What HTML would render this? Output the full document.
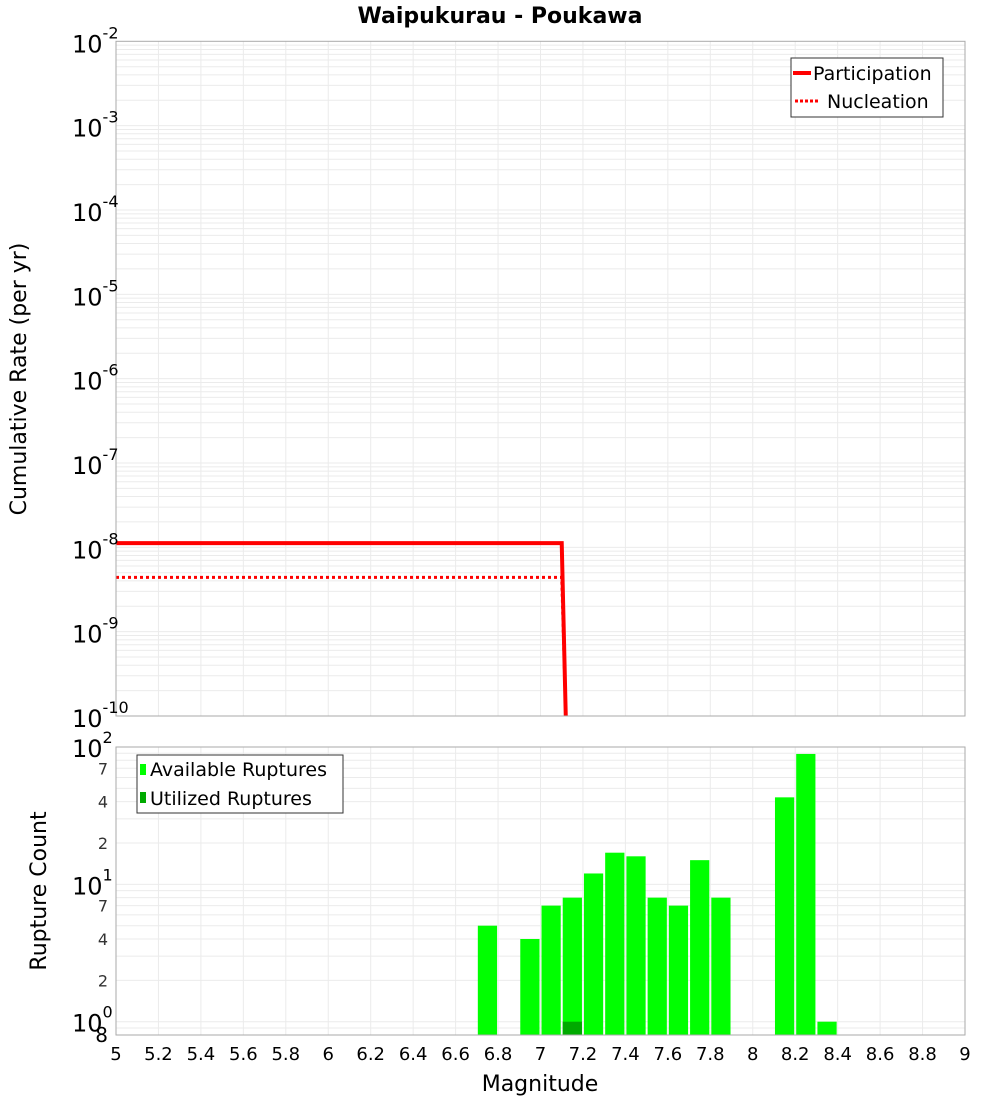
<!DOCTYPE html>
<html><head><meta charset="utf-8">
<style>
html,body{margin:0;padding:0;background:#fff;}
svg{display:block;font-family:"DejaVu Sans","Liberation Sans",sans-serif;}
</style></head>
<body>
<svg id="chart" width="1000" height="1100" xmlns="http://www.w3.org/2000/svg"></svg>
<script>
// ---- data ----
const partMag = [5, 7.1, 7.119];
const partRate = [1.12e-8, 1.12e-8, 1e-10];
const nuclMag = [5, 7.1, 7.119];
const nuclRate = [4.4e-9, 4.4e-9, 1e-10];
const binMag = [6.7, 6.9, 7.0, 7.1, 7.2, 7.3, 7.4, 7.5, 7.6, 7.7, 7.8, 8.1, 8.2, 8.3];
const availCount = [5, 4, 7, 8, 12, 17, 16, 8, 7, 15, 8, 43, 89, 1];
const usedMag = [7.1];
const usedCount = [1];
const xTicks = [5,5.2,5.4,5.6,5.8,6,6.2,6.4,6.6,6.8,7,7.2,7.4,7.6,7.8,8,8.2,8.4,8.6,8.8,9];
const topExp = [-2,-3,-4,-5,-6,-7,-8,-9,-10];
const botMinor = [2,4,7,20,40,70];

const NS = "http://www.w3.org/2000/svg";
const svg = document.getElementById('chart');
function el(tag, attrs, parent){
  const e = document.createElementNS(NS, tag);
  for (const k in attrs) e.setAttribute(k, attrs[k]);
  (parent||svg).appendChild(e);
  return e;
}
const X0=116, X1=965;
const xs = m => X0 + (m-5)/(9-5)*(X1-X0);
const T0=41.3, T1=716;
const yTop = v => T0 + (-2 - Math.log10(v))/8*(T1-T0);
const B0=747, B1=1035;
const BMIN=0.8, BMAX=100;
const yBot = v => B0 + (Math.log10(BMAX)-Math.log10(v))/(Math.log10(BMAX)-Math.log10(BMIN))*(B1-B0);

// title
let t = el('text',{x:500,y:23,'text-anchor':'middle','font-size':22,'font-weight':'bold'});


t.textContent='Waipukurau - Poukawa';

// ---- top panel ----
const gTop = el('g',{});


el('rect',{x:X0,y:T0,width:X1-X0,height:T1-T0,fill:'#fff'},gTop);
for (let e=-10;e<-2;e++){
  for (let k=1;k<10;k++){
    const y=yTop(k*Math.pow(10,e));
    el('line',{x1:X0,x2:X1,y1:y,y2:y,stroke:'#ebebeb','stroke-width':1},gTop);
  }
}
xTicks.forEach(m=>{el('line',{x1:xs(m),x2:xs(m),y1:T0,y2:T1,stroke:'#ebebeb','stroke-width':1},gTop);});
const clipT = el('clipPath',{id:'ct'}); el('rect',{x:X0,y:T0,width:X1-X0,height:T1-T0},clipT);
const gl = el('g',{'clip-path':'url(#ct)'},gTop);
let pp = el('polyline',{points:partMag.map((m,i)=>xs(m)+','+yTop(partRate[i])).join(' '),fill:'none',stroke:'#ff0000','stroke-width':4},gl);


let np = el('polyline',{points:nuclMag.map((m,i)=>xs(m)+','+yTop(nuclRate[i])).join(' '),fill:'none',stroke:'#ff0000','stroke-width':3,'stroke-dasharray':'3,3'},gl);


el('rect',{x:X0,y:T0,width:X1-X0,height:T1-T0,fill:'none',stroke:'#aaa','stroke-width':1},gTop);
topExp.forEach(e=>{
  const y=yTop(Math.pow(10,e));
  const tx=el('text',{x:72,y:y+11,'font-size':24},gTop);
  
  
  tx.textContent='10';
  const sp=el('tspan',{dy:-14,'font-size':16},tx); sp.textContent=String(e);
});
let yt=el('text',{x:26,y:379,'font-size':22,'text-anchor':'middle',transform:'rotate(-90 26 379)'});


yt.textContent='Cumulative Rate (per yr)';
// legend top
const lg=el('g',{});  
el('rect',{x:791,y:58,width:152,height:59,fill:'#fff',stroke:'#333','stroke-width':1},lg);
el('line',{x1:793,x2:811,y1:73,y2:73,stroke:'#f00','stroke-width':4},lg);
el('line',{x1:795,x2:820,y1:101,y2:101,stroke:'#f00','stroke-width':3,'stroke-dasharray':'3,2'},lg);
let l1=el('text',{x:813,y:80,'font-size':19},lg); l1.textContent='Participation';
let l2=el('text',{x:827,y:108,'font-size':19},lg); l2.textContent='Nucleation';

// ---- bottom panel ----
const gB = el('g',{});


for (let e=-1;e<2;e++){
  for (let k=1;k<10;k++){
    const v=k*Math.pow(10,e);
    if (v<BMIN||v>BMAX) continue;
    const y=yBot(v);
    el('line',{x1:X0,x2:X1,y1:y,y2:y,stroke:'#ebebeb','stroke-width':1},gB);
  }
}
xTicks.forEach(m=>{el('line',{x1:xs(m),x2:xs(m),y1:B0,y2:B1,stroke:'#ebebeb','stroke-width':1},gB);});
binMag.forEach((m,i)=>{
  const y=yBot(availCount[i]);
  const r=el('rect',{x:xs(m)+1,y:y,width:xs(m+0.1)-xs(m)-2,height:B1-y,fill:'#00ff00'},gB);
  
  
});
usedMag.forEach((m,i)=>{
  const y=yBot(usedCount[i]);
  const r=el('rect',{x:xs(m)+1,y:y,width:xs(m+0.1)-xs(m)-2,height:B1-y,fill:'#00aa00'},gB);
  
  
});
el('rect',{x:X0,y:B0,width:X1-X0,height:B1-B0,fill:'none',stroke:'#aaa','stroke-width':1},gB);
[[1,'0'],[10,'1'],[100,'2']].forEach(([v,e])=>{
  const y=yBot(v);
  const tx=el('text',{x:72,y:y+10,'font-size':24},gB);
  
  
  tx.textContent='10';
  const sp=el('tspan',{dy:-14,'font-size':16},tx); sp.textContent=e;
});
botMinor.forEach(v=>{
  const tx=el('text',{x:108,y:yBot(v)+6,'font-size':16,'text-anchor':'end',fill:'#333'},gB);
  
  
  tx.textContent=String(v>=10?v/10:v);
});
let t8=el('text',{x:108,y:1042,'font-size':20,'text-anchor':'end'},gB); t8.textContent='8';
let bt=el('text',{x:46,y:891,'font-size':22,'text-anchor':'middle',transform:'rotate(-90 46 891)'});


bt.textContent='Rupture Count';
xTicks.forEach(m=>{
  const tx=el('text',{x:xs(m),y:1060,'font-size':18,'text-anchor':'middle'});
  
  
  tx.textContent=String(m);
});
let xt=el('text',{x:540,y:1091,'font-size':22,'text-anchor':'middle'});


xt.textContent='Magnitude';
const lb=el('g',{});  
el('rect',{x:137,y:755,width:206,height:58,fill:'#fff',stroke:'#333','stroke-width':1},lb);
el('rect',{x:140,y:764,width:6,height:11,fill:'#00ff00'},lb);
el('rect',{x:140,y:792,width:6,height:11,fill:'#00aa00'},lb);
let b1=el('text',{x:150,y:776,'font-size':19},lb); b1.textContent='Available Ruptures';
let b2=el('text',{x:150,y:805,'font-size':19},lb); b2.textContent='Utilized Ruptures';
</script>
</body></html>
